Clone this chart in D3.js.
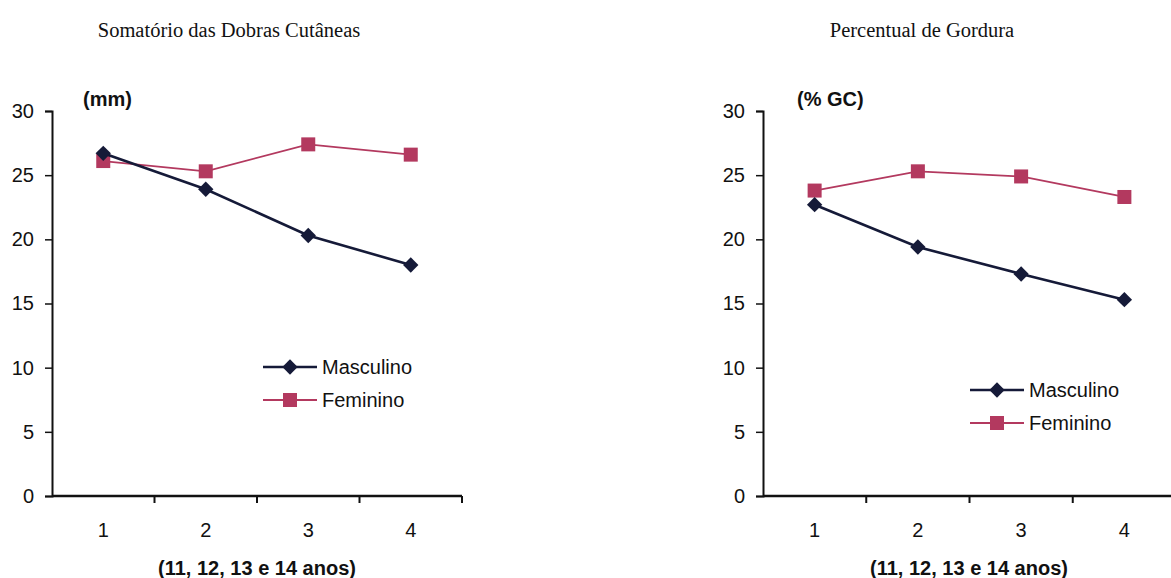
<!DOCTYPE html>
<html lang="pt">
<head>
<meta charset="UTF-8">
<title>Dobras e Gordura</title>
<script src="https://cdn.jsdelivr.net/npm/d3@7"></script>
<style>
  body { margin: 0; background: #fff; }
</style>
</head>
<body>
<svg id="mainsvg" width="1171" height="578"></svg>
<script>
// dados
const idades = ["1", "2", "3", "4"];
const dobrasMasc = [26.7, 23.9, 20.3, 18.0];
const dobrasFem = [26.1, 25.3, 27.4, 26.6];
const gorduraMasc = [22.7, 19.4, 17.3, 15.3];
const gorduraFem = [23.8, 25.3, 24.9, 23.3];
const yTicks = [0, 5, 10, 15, 20, 25, 30];
const seriesNomes = ["Masculino", "Feminino"];

const navy = "#151a38";
const pink = "#b3395f";
const sans = "Arial, 'Liberation Sans', sans-serif";

const svg = d3.select("#mainsvg");

function drawChart(opt) {
  const g = svg.append("g").attr("transform", `translate(${opt.left}, ${opt.top})`);
  const w = opt.width, h = opt.height;

  const x = d3.scaleBand().domain(idades).range([0, w]);
  const y = d3.scaleLinear().domain([0, 30]).range([h, 0]);

  // eixo y
  const yAxis = g.append("g")
    .call(d3.axisLeft(y).tickValues(yTicks).tickSize(7).tickPadding(11));
  yAxis.attr("font-size", 20).attr("font-family", sans);
  yAxis.select(".domain").attr("stroke", "#111").attr("stroke-width", 2);
  yAxis.selectAll(".tick line").attr("stroke", "#111").attr("stroke-width", 1.5);
  yAxis.selectAll(".tick text").attr("fill", "#111");

  // eixo x: traços nas fronteiras das categorias
  const xAxis = g.append("g").attr("transform", `translate(0, ${h})`);
  xAxis.append("line").attr("x1", 0).attr("x2", w).attr("stroke", "#111").attr("stroke-width", 2.5);
  xAxis.selectAll(".xt")
    .data(idades.slice(1).concat(["end"]))
    .join("line")
    .attr("class", "xt")
    .attr("x1", (d, i) => i < 3 ? x(d) : w)
    .attr("x2", (d, i) => i < 3 ? x(d) : w)
    .attr("y1", 0).attr("y2", 7)
    .attr("stroke", "#111").attr("stroke-width", 2);
  xAxis.selectAll(".xl")
    .data(idades)
    .join("text")
    .attr("class", "xl")
    .attr("x", d => x(d) + x.bandwidth() / 2)
    .attr("y", 41)
    .attr("text-anchor", "middle")
    .attr("font-family", sans)
    .attr("font-size", 20)
    .attr("fill", "#111")
    .text(d => d);

  // titulo do eixo x
  g.append("text")
    .attr("x", opt.xTitleX)
    .attr("y", h + 79)
    .attr("text-anchor", "middle")
    .attr("font-family", sans)
    .attr("font-size", 20)
    .attr("font-weight", "bold")
    .attr("fill", "#111")
    .text("(11, 12, 13 e 14 anos)");

  // unidade
  g.append("text")
    .attr("x", opt.unitX)
    .attr("y", -5)
    .attr("font-family", sans)
    .attr("font-size", 20)
    .attr("font-weight", "bold")
    .attr("fill", "#111")
    .text(opt.unit);

  // titulo
  svg.append("text")
    .attr("x", opt.titleX)
    .attr("y", 37)
    .attr("text-anchor", "middle")
    .attr("font-family", "'Liberation Serif', 'Times New Roman', serif")
    .attr("font-size", 20.5)
    .attr("fill", "#111")
    .text(opt.title);

  const cx = i => x(idades[i]) + x.bandwidth() / 2;
  const line = d3.line().x((d, i) => cx(i)).y(d => y(d));

  // feminino
  g.append("path").datum(opt.fem)
    .attr("fill", "none").attr("stroke", pink).attr("stroke-width", 1.8)
    .attr("d", line);
  g.selectAll(".sq").data(opt.fem).join("rect")
    .attr("class", "sq")
    .attr("x", (d, i) => cx(i) - 7).attr("y", d => y(d) - 7)
    .attr("width", 14).attr("height", 14)
    .attr("fill", pink);

  // masculino
  g.append("path").datum(opt.masc)
    .attr("fill", "none").attr("stroke", navy).attr("stroke-width", 2.6)
    .attr("d", line);
  const diamond = d3.symbol().type(d3.symbolDiamond2).size(150);
  g.selectAll(".dm").data(opt.masc).join("path")
    .attr("class", "dm")
    .attr("transform", (d, i) => `translate(${cx(i)}, ${y(d)})`)
    .attr("d", diamond)
    .attr("fill", navy);

  // legenda
  const leg = g.append("g").attr("transform", `translate(${opt.legX}, ${opt.legY})`);
  seriesNomes.forEach((nome, i) => {
    const row = leg.append("g").attr("transform", `translate(0, ${i * 33})`);
    const c = i === 0 ? navy : pink;
    row.append("line").attr("x1", 0).attr("x2", 54)
      .attr("stroke", c).attr("stroke-width", i === 0 ? 2.6 : 1.8);
    if (i === 0) {
      row.append("path").attr("transform", "translate(27, 0)").attr("d", diamond).attr("fill", c);
    } else {
      row.append("rect").attr("x", 20).attr("y", -7).attr("width", 14).attr("height", 14).attr("fill", c);
    }
    row.append("text").attr("x", 59).attr("y", 7)
      .attr("font-family", sans)
      .attr("font-size", 20).attr("fill", "#111").text(nome);
  });
}

drawChart({
  left: 52, top: 111, width: 410, height: 385,
  title: "Somatório das Dobras Cutâneas", titleX: 229,
  unit: "(mm)", unitX: 31, xTitleX: 205,
  legX: 211, legY: 256,
  masc: dobrasMasc, fem: dobrasFem
});

drawChart({
  left: 763, top: 111, width: 413, height: 385,
  title: "Percentual de Gordura", titleX: 922,
  unit: "(% GC)", unitX: 34, xTitleX: 206,
  legX: 207, legY: 279,
  masc: gorduraMasc, fem: gorduraFem
});
</script>
</body>
</html>
